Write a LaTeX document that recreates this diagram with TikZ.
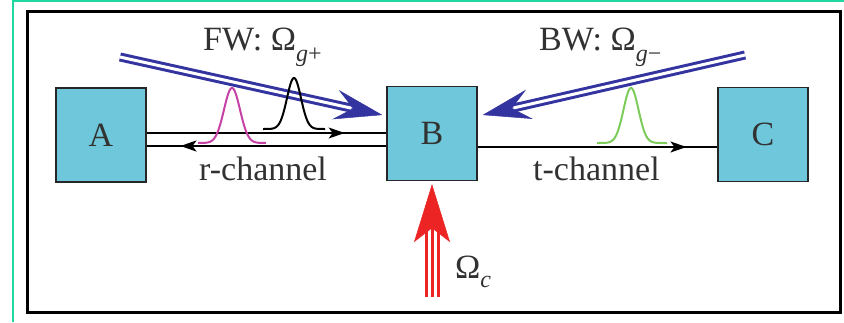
\documentclass[tikz,border=0pt]{standalone}
\usepackage{fontspec}
\setmainfont{Liberation Serif}
\usetikzlibrary{arrows.meta,calc,decorations.markings}
\definecolor{boxcyan}{RGB}{110,199,219}
\definecolor{txtgray}{RGB}{50,50,50}
\definecolor{beamblue}{RGB}{52,52,160}
\definecolor{beamred}{RGB}{236,36,36}
\definecolor{pulsemag}{RGB}{196,66,166}
\definecolor{pulsegreen}{RGB}{124,204,92}
\definecolor{framegreen}{RGB}{30,216,160}
\tikzset{chantip/.tip={Stealth[length=16pt,width=11pt,inset=4pt]}}
\begin{document}
\begin{tikzpicture}[x=1pt,y=-1pt,
  box/.style={draw=black!85, line width=1.3pt, fill=boxcyan, minimum width=90pt,
    minimum height=94pt, inner sep=0pt, text=txtgray, font=\fontsize{34}{36}\selectfont},
  lbl/.style={anchor=base west, inner sep=0pt, text=txtgray, font=\fontsize{34}{36}\selectfont},
  chan/.style={draw=black, line width=1.5pt},
  beamshaft/.style={draw=beamblue, line width=3pt, double=white, double distance=3pt},
  beamhead/.style={draw=beamblue, fill=beamblue, line width=0.5pt,
    -{Stealth[length=48pt,width=30pt,inset=18pt]}},
  pulse/.style={line width=2pt}
]
\useasboundingbox (0,0) rectangle (844,322);
% frames
\draw[framegreen, line width=2.5pt] (13,322) -- (13,1) -- (844,1);
\draw[black, line width=3pt] (27,11) rectangle (840,312);

% boxes
\node[box] (A) at (101,135) {A};
\node[box] (B) at (432,133.5) {B};
\node[box] (C) at (763,134.5) {C};

% channels
\draw[chan, postaction={decorate},
  decoration={markings, mark=at position 0.826 with {\arrow{chantip}}}]
  ([yshift=2pt]A.east) -- ([yshift=2pt]A.east -| B.west);
\draw[chan, line width=2.2pt, postaction={decorate},
  decoration={markings, mark=at position 0.859 with {\arrow{chantip}}}]
  ([yshift=-11pt]A.east -| B.west) -- ([yshift=-11pt]A.east);
\draw[chan, postaction={decorate},
  decoration={markings, mark=at position 0.871 with {\arrow{chantip}}}]
  ([yshift=-13.5pt]B.east) -- ([yshift=-13.5pt]B.east -| C.west);

% labels
\node[lbl] (fw) at (203,50) {FW: Ω\raisebox{-11pt}{\fontsize{24}{24}\selectfont\textit{g}+}};
\node[lbl] (bw) at (539,50) {BW: Ω\raisebox{-11pt}{\fontsize{24}{24}\selectfont\textit{g}−}};
\node[lbl] (rch) at (199,180) {r-channel};
\node[lbl] (tch) at (533,180) {t-channel};
\node[lbl] (omc) at (455,278) {Ω\raisebox{-9pt}{\fontsize{24}{24}\selectfont\textit{c}}};

% blue beams
\coordinate (fws) at (120,57);
\coordinate (fwt) at ([xshift=-4pt,yshift=18.5pt]B.west);
\coordinate (bws) at (745,55);
\coordinate (bwt) at ([xshift=5pt,yshift=18.5pt]B.east);
\draw[beamshaft] (fws) -- ($(fwt)!25pt!(fws)$);
\draw[beamhead] ($(fwt)!32pt!(fws)$) -- (fwt);
\draw[beamshaft] (bws) -- ($(bwt)!25pt!(bws)$);
\draw[beamhead] ($(bwt)!32pt!(bws)$) -- (bwt);

% red beam
\coordinate (rs) at (432,297);
\coordinate (rt) at ([yshift=-3pt]B.south);
\coordinate (rb) at ($(rs)+(0,-57)$);
\foreach \dx in {-6,0,6}{
  \draw[beamred, line width=3pt] ([xshift=\dx pt]rs) -- ([xshift=\dx pt]$(rs)+(0,-75)$);
}
\draw[draw=beamred, fill=beamred, line width=0.5pt,
  -{Stealth[length=58pt,width=36pt,inset=14pt]}] (rb) -- (rt);

% pulses
\draw[pulse, pulsemag] plot[domain=-34:34, samples=90, smooth]
  ({232+\x}, {143-55*exp(-0.5*(\x/8)^2)});
\draw[pulse, black] plot[domain=-31:31, samples=90, smooth]
  ({294+\x}, {129-51*exp(-0.5*(\x/7)^2)});
\draw[pulse, pulsegreen] plot[domain=-34:36, samples=90, smooth]
  ({631+\x}, {143-55*exp(-0.5*(\x/7.5)^2)});
\end{tikzpicture}
\end{document}
